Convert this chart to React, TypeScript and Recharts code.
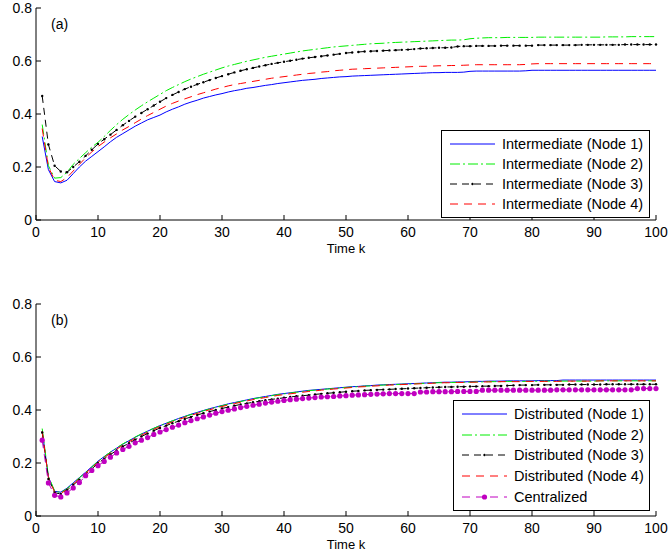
import React from "react";
import { LineChart, Line, XAxis, YAxis } from "recharts";

const FONT = '"Liberation Sans", Arial, Helvetica, sans-serif';

// time index k = 1..100
const steps: number[] = Array.from({ length: 100 }, (_, i) => i + 1);
const xTicks = [0, 10, 20, 30, 40, 50, 60, 70, 80, 90, 100];
const yTicks = [0, 0.2, 0.4, 0.6, 0.8];

// (a) intermediate estimates
const inter1 = [
  0.315, 0.19, 0.145, 0.14, 0.15, 0.175, 0.2, 0.222, 0.24, 0.258,
  0.276, 0.295, 0.312, 0.326, 0.34, 0.354, 0.366, 0.378, 0.387, 0.396,
  0.408, 0.418, 0.427, 0.437, 0.445, 0.452, 0.46, 0.466, 0.472, 0.477,
  0.483, 0.488, 0.492, 0.497, 0.5, 0.504, 0.508, 0.511, 0.515, 0.518,
  0.521, 0.524, 0.527, 0.529, 0.531, 0.534, 0.536, 0.538, 0.54, 0.541,
  0.543, 0.544, 0.545, 0.546, 0.547, 0.548, 0.549, 0.55, 0.551, 0.552,
  0.553, 0.554, 0.555, 0.556, 0.556, 0.557, 0.557, 0.557, 0.558, 0.561,
  0.562, 0.562, 0.562, 0.562, 0.562, 0.562, 0.562, 0.562, 0.563, 0.565,
  0.565, 0.565, 0.565, 0.565, 0.565, 0.565, 0.565, 0.565, 0.565, 0.565,
  0.565, 0.565, 0.565, 0.565, 0.565, 0.565, 0.565, 0.565, 0.565, 0.565,
];
const inter2 = [
  0.36, 0.205, 0.158, 0.16, 0.18, 0.21, 0.232, 0.254, 0.275, 0.293,
  0.315, 0.338, 0.36, 0.38, 0.398, 0.415, 0.431, 0.446, 0.46, 0.474,
  0.488, 0.5, 0.511, 0.522, 0.532, 0.541, 0.55, 0.558, 0.566, 0.574,
  0.581, 0.587, 0.593, 0.599, 0.604, 0.609, 0.614, 0.618, 0.622, 0.626,
  0.63, 0.634, 0.638, 0.641, 0.644, 0.647, 0.65, 0.653, 0.655, 0.657,
  0.659, 0.661, 0.663, 0.665, 0.666, 0.667, 0.669, 0.67, 0.671, 0.672,
  0.673, 0.674, 0.675, 0.676, 0.677, 0.678, 0.679, 0.679, 0.68, 0.684,
  0.686, 0.687, 0.688, 0.688, 0.688, 0.689, 0.689, 0.689, 0.689, 0.689,
  0.69, 0.69, 0.69, 0.69, 0.69, 0.69, 0.69, 0.69, 0.69, 0.69,
  0.69, 0.691, 0.691, 0.691, 0.691, 0.692, 0.692, 0.692, 0.692, 0.692,
];
const inter3 = [
  0.468, 0.285, 0.205, 0.183, 0.18, 0.2, 0.22, 0.242, 0.265, 0.287,
  0.305, 0.322, 0.34, 0.358, 0.374, 0.39, 0.404, 0.418, 0.432, 0.446,
  0.46, 0.472, 0.483, 0.494, 0.503, 0.512, 0.52, 0.528, 0.536, 0.543,
  0.55, 0.557, 0.563, 0.569, 0.574, 0.579, 0.584, 0.589, 0.593, 0.597,
  0.601, 0.605, 0.609, 0.612, 0.615, 0.618, 0.621, 0.624, 0.627, 0.63,
  0.632, 0.634, 0.636, 0.637, 0.638, 0.639, 0.64, 0.641, 0.642, 0.643,
  0.645, 0.647, 0.648, 0.649, 0.65, 0.65, 0.651, 0.655, 0.656, 0.656,
  0.657, 0.657, 0.657, 0.657, 0.658, 0.658, 0.658, 0.658, 0.658, 0.658,
  0.66, 0.66, 0.66, 0.66, 0.66, 0.66, 0.66, 0.661, 0.661, 0.661,
  0.661, 0.661, 0.661, 0.661, 0.662, 0.662, 0.662, 0.662, 0.662, 0.662,
];
const inter4 = [
  0.345, 0.2, 0.15, 0.145, 0.16, 0.185, 0.21, 0.235, 0.257, 0.277,
  0.294, 0.31, 0.325, 0.34, 0.353, 0.367, 0.381, 0.394, 0.406, 0.418,
  0.43, 0.44, 0.449, 0.457, 0.465, 0.473, 0.48, 0.487, 0.494, 0.5,
  0.506, 0.511, 0.515, 0.519, 0.523, 0.527, 0.531, 0.535, 0.538, 0.541,
  0.544, 0.547, 0.55, 0.553, 0.555, 0.558, 0.56, 0.563, 0.565, 0.567,
  0.569, 0.57, 0.571, 0.572, 0.573, 0.574, 0.575, 0.576, 0.577, 0.578,
  0.579, 0.58, 0.58, 0.581, 0.582, 0.582, 0.583, 0.583, 0.584, 0.585,
  0.586, 0.586, 0.586, 0.586, 0.586, 0.586, 0.586, 0.586, 0.587, 0.589,
  0.59, 0.59, 0.59, 0.59, 0.59, 0.59, 0.59, 0.59, 0.59, 0.59,
  0.59, 0.59, 0.59, 0.59, 0.59, 0.59, 0.59, 0.59, 0.59, 0.59,
];

// (b) distributed estimates + centralized
const dist1 = [
  0.32, 0.147, 0.093, 0.09, 0.105, 0.125, 0.145, 0.165, 0.186, 0.207,
  0.224, 0.241, 0.256, 0.271, 0.284, 0.297, 0.309, 0.32, 0.331, 0.341,
  0.35, 0.359, 0.368, 0.376, 0.384, 0.391, 0.398, 0.405, 0.411, 0.417,
  0.423, 0.428, 0.433, 0.438, 0.443, 0.447, 0.451, 0.455, 0.459, 0.462,
  0.465, 0.468, 0.471, 0.474, 0.476, 0.478, 0.48, 0.482, 0.484, 0.486,
  0.488, 0.489, 0.491, 0.492, 0.494, 0.495, 0.496, 0.497, 0.498, 0.499,
  0.5, 0.501, 0.502, 0.503, 0.504, 0.505, 0.505, 0.506, 0.506, 0.507,
  0.508, 0.508, 0.509, 0.509, 0.509, 0.51, 0.51, 0.51, 0.51, 0.51,
  0.511, 0.511, 0.511, 0.511, 0.513, 0.513, 0.513, 0.513, 0.513, 0.513,
  0.513, 0.513, 0.513, 0.513, 0.513, 0.513, 0.513, 0.513, 0.513, 0.513,
];
const dist2 = [
  0.33, 0.15, 0.095, 0.088, 0.103, 0.123, 0.144, 0.164, 0.185, 0.206,
  0.224, 0.241, 0.257, 0.272, 0.285, 0.298, 0.31, 0.321, 0.331, 0.341,
  0.35, 0.359, 0.367, 0.375, 0.383, 0.39, 0.397, 0.404, 0.41, 0.416,
  0.422, 0.427, 0.432, 0.437, 0.442, 0.446, 0.45, 0.454, 0.458, 0.461,
  0.464, 0.467, 0.47, 0.473, 0.475, 0.477, 0.479, 0.481, 0.483, 0.485,
  0.487, 0.488, 0.49, 0.491, 0.493, 0.494, 0.495, 0.496, 0.497, 0.498,
  0.499, 0.5, 0.501, 0.502, 0.503, 0.503, 0.504, 0.504, 0.505, 0.505,
  0.506, 0.506, 0.507, 0.507, 0.507, 0.508, 0.508, 0.508, 0.508, 0.508,
  0.509, 0.509, 0.509, 0.509, 0.509, 0.509, 0.509, 0.509, 0.509, 0.509,
  0.51, 0.51, 0.51, 0.51, 0.51, 0.51, 0.51, 0.51, 0.51, 0.51,
];
const dist3 = [
  0.315, 0.14, 0.088, 0.083, 0.097, 0.117, 0.137, 0.157, 0.178, 0.199,
  0.216, 0.232, 0.247, 0.262, 0.275, 0.288, 0.3, 0.311, 0.322, 0.332,
  0.341, 0.35, 0.358, 0.366, 0.374, 0.381, 0.388, 0.394, 0.4, 0.406,
  0.411, 0.416, 0.421, 0.425, 0.429, 0.433, 0.437, 0.44, 0.443, 0.446,
  0.449, 0.452, 0.454, 0.456, 0.459, 0.461, 0.463, 0.465, 0.467, 0.469,
  0.471, 0.472, 0.474, 0.475, 0.476, 0.477, 0.478, 0.479, 0.48, 0.481,
  0.482, 0.483, 0.484, 0.485, 0.486, 0.487, 0.487, 0.488, 0.488, 0.489,
  0.489, 0.49, 0.49, 0.491, 0.491, 0.492, 0.493, 0.494, 0.494, 0.494,
  0.495, 0.495, 0.495, 0.495, 0.495, 0.496, 0.496, 0.496, 0.496, 0.496,
  0.496, 0.497, 0.497, 0.497, 0.497, 0.497, 0.497, 0.497, 0.497, 0.497,
];
const dist4 = [
  0.32, 0.145, 0.09, 0.085, 0.1, 0.12, 0.141, 0.161, 0.182, 0.203,
  0.22, 0.237, 0.252, 0.267, 0.28, 0.293, 0.305, 0.316, 0.327, 0.337,
  0.346, 0.355, 0.364, 0.372, 0.38, 0.387, 0.394, 0.401, 0.407, 0.413,
  0.419, 0.424, 0.429, 0.434, 0.439, 0.443, 0.447, 0.451, 0.455, 0.458,
  0.461, 0.464, 0.467, 0.47, 0.472, 0.475, 0.477, 0.479, 0.481, 0.483,
  0.485, 0.487, 0.488, 0.49, 0.491, 0.493, 0.494, 0.495, 0.496, 0.497,
  0.498, 0.499, 0.5, 0.501, 0.502, 0.503, 0.503, 0.504, 0.504, 0.505,
  0.505, 0.506, 0.506, 0.506, 0.507, 0.507, 0.507, 0.507, 0.508, 0.508,
  0.508, 0.508, 0.508, 0.508, 0.509, 0.509, 0.509, 0.509, 0.509, 0.509,
  0.51, 0.51, 0.51, 0.51, 0.51, 0.51, 0.51, 0.51, 0.51, 0.51,
];
const central = [
  0.286, 0.125, 0.078, 0.072, 0.087, 0.106, 0.126, 0.152, 0.172, 0.19,
  0.206, 0.222, 0.238, 0.251, 0.263, 0.276, 0.286, 0.296, 0.308, 0.317,
  0.326, 0.335, 0.343, 0.352, 0.36, 0.367, 0.374, 0.381, 0.388, 0.394,
  0.399, 0.404, 0.409, 0.414, 0.418, 0.422, 0.426, 0.43, 0.433, 0.436,
  0.439, 0.441, 0.443, 0.445, 0.447, 0.449, 0.45, 0.451, 0.453, 0.454,
  0.456, 0.457, 0.458, 0.459, 0.46, 0.461, 0.462, 0.462, 0.462, 0.462,
  0.462, 0.468, 0.468, 0.469, 0.469, 0.469, 0.469, 0.47, 0.47, 0.47,
  0.47, 0.475, 0.475, 0.475, 0.475, 0.475, 0.475, 0.475, 0.475, 0.475,
  0.475, 0.475, 0.475, 0.476, 0.476, 0.476, 0.476, 0.476, 0.476, 0.476,
  0.476, 0.476, 0.476, 0.476, 0.476, 0.476, 0.481, 0.481, 0.481, 0.481,
];

type Series = {
  key: string;
  name: string;
  values: number[];
  color: string;
  dash?: string;
  dotR?: number;
};

const seriesA: Series[] = [
  { key: "n1", name: "Intermediate (Node 1)", values: inter1, color: "#0000ff" },
  { key: "n2", name: "Intermediate (Node 2)", values: inter2, color: "#00ee00", dash: "10 3 2 3" },
  { key: "n3", name: "Intermediate (Node 3)", values: inter3, color: "#000000", dash: "7 5", dotR: 1.2 },
  { key: "n4", name: "Intermediate (Node 4)", values: inter4, color: "#ff0000", dash: "8 6" },
];

const seriesB: Series[] = [
  { key: "n1", name: "Distributed (Node 1)", values: dist1, color: "#0000ff" },
  { key: "n2", name: "Distributed (Node 2)", values: dist2, color: "#00ee00", dash: "10 3 2 3" },
  { key: "n3", name: "Distributed (Node 3)", values: dist3, color: "#000000", dash: "7 5", dotR: 1.2 },
  { key: "n4", name: "Distributed (Node 4)", values: dist4, color: "#ff0000", dash: "8 6" },
  { key: "c", name: "Centralized", values: central, color: "#c000c0", dash: "8 6", dotR: 2.6 },
];

function toRows(series: Series[]) {
  return steps.map((k, i) => {
    const row: { [key: string]: number } = { k };
    series.forEach((s) => {
      row[s.key] = s.values[i];
    });
    return row;
  });
}

function LegendBox({
  series,
  left,
  top,
  width,
  rowHeight,
}: {
  series: Series[];
  left: number;
  top: number;
  width: number;
  rowHeight: number;
}) {
  return (
    <div
      style={{
        position: "absolute",
        left,
        top,
        width,
        border: "1px solid #000",
        background: "#fff",
        padding: "3px 0 3px 0",
        fontFamily: FONT,
        fontSize: 14.5,
        color: "#000",
        boxSizing: "border-box",
      }}
    >
      {series.map((s) => (
        <div
          key={s.key}
          style={{ display: "flex", alignItems: "center", height: rowHeight, whiteSpace: "nowrap" }}
        >
          <svg width={60} height={10} style={{ flex: "none" }}>
            <line x1={8} x2={53} y1={5} y2={5} stroke={s.color} strokeWidth={1} strokeDasharray={s.dash} />
            {s.dotR ? <circle cx={30.5} cy={5} r={s.dotR} fill={s.color} /> : null}
          </svg>
          <span>{s.name}</span>
        </div>
      ))}
    </div>
  );
}

function Panel({
  top,
  tag,
  series,
  legend,
}: {
  top: number;
  tag: string;
  series: Series[];
  legend: { left: number; top: number; width: number; rowHeight: number };
}) {
  const data = toRows(series);
  const axisStroke = { stroke: "#000", strokeWidth: 1 };
  return (
    <div style={{ position: "absolute", left: 0, top, width: 671, height: 262 }}>
      <LineChart
        width={671}
        height={262}
        data={data}
        margin={{ top: 8, right: 15, bottom: 0, left: 0 }}
        style={{ fontFamily: FONT }}
      >
        <XAxis
          dataKey="k"
          type="number"
          domain={[0, 100]}
          ticks={xTicks}
          height={42}
          tickSize={-5}
          tickMargin={12}
          interval={0}
          tick={{ fill: "#000", fontSize: 14 }}
          axisLine={axisStroke}
          tickLine={axisStroke}
          label={{ value: "Time k", position: "insideBottom", offset: 9, fill: "#000", fontSize: 13 }}
        />
        <XAxis
          xAxisId="top"
          orientation="top"
          type="number"
          domain={[0, 100]}
          ticks={xTicks}
          height={0}
          tickSize={-5}
          interval={0}
          tick={false}
          axisLine={axisStroke}
          tickLine={axisStroke}
        />
        <YAxis
          type="number"
          domain={[0, 0.8]}
          ticks={yTicks}
          width={36}
          tickSize={-5}
          tickMargin={9}
          interval={0}
          tick={{ fill: "#000", fontSize: 14 }}
          axisLine={axisStroke}
          tickLine={axisStroke}
        />
        <YAxis
          yAxisId="right"
          orientation="right"
          type="number"
          domain={[0, 0.8]}
          ticks={yTicks}
          width={0}
          tickSize={-5}
          interval={0}
          tick={false}
          axisLine={axisStroke}
          tickLine={axisStroke}
        />
        {series.map((s) => (
          <Line
            key={s.key}
            type="linear"
            dataKey={s.key}
            name={s.name}
            stroke={s.color}
            strokeWidth={1}
            strokeDasharray={s.dash}
            dot={s.dotR ? { r: s.dotR, fill: s.color, stroke: "none", strokeDasharray: undefined } : false}
            activeDot={false}
            isAnimationActive={false}
          />
        ))}
      </LineChart>
      <div
        style={{
          position: "absolute",
          left: 51,
          top: 16,
          fontFamily: FONT,
          fontSize: 14,
          color: "#000",
          lineHeight: "16px",
        }}
      >
        {tag}
      </div>
      <LegendBox series={series} {...legend} />
    </div>
  );
}

export default function App() {
  return (
    <div
      style={{
        position: "absolute",
        left: 0,
        top: 0,
        width: 671,
        height: 559,
        background: "#fff",
        overflow: "hidden",
      }}
    >
      <Panel
        top={0}
        tag="(a)"
        series={seriesA}
        legend={{ left: 441, top: 130, width: 209, rowHeight: 20 }}
      />
      <Panel
        top={296}
        tag="(b)"
        series={seriesB}
        legend={{ left: 453, top: 104, width: 197, rowHeight: 20.6 }}
      />
    </div>
  );
}
